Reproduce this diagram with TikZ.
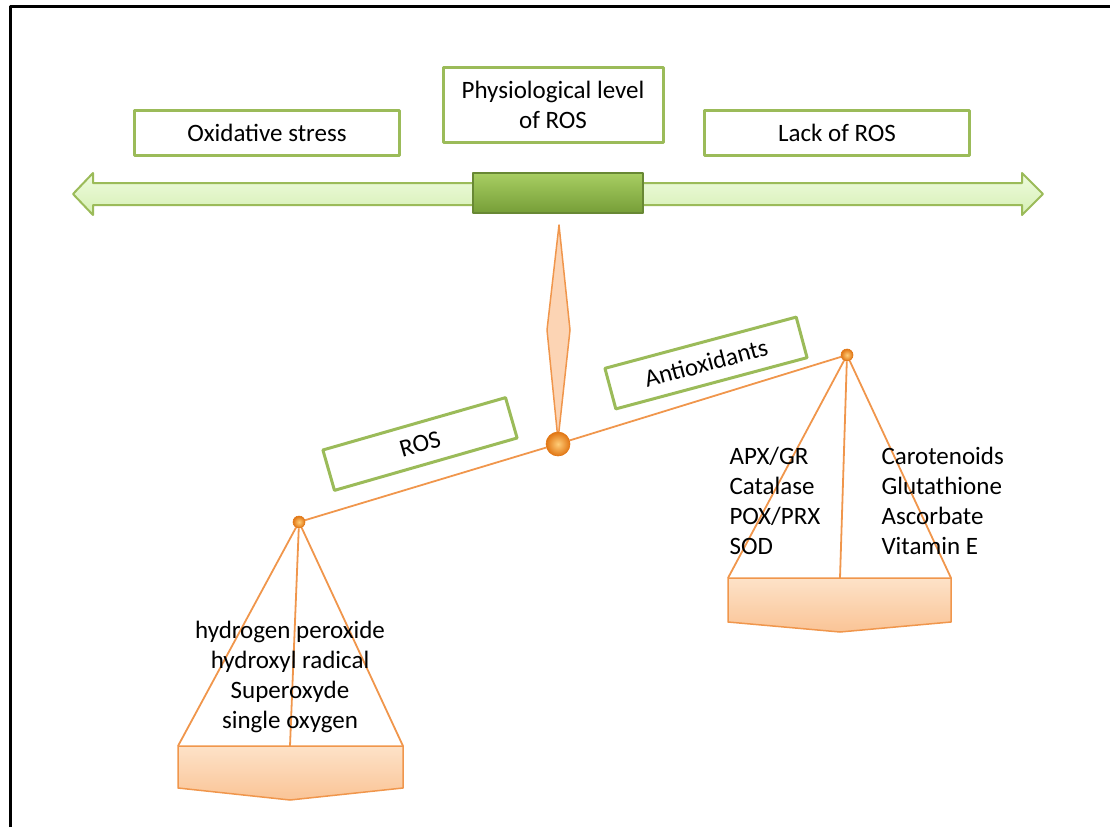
\documentclass[tikz,border=0pt]{standalone}
\usepackage{fontspec}
\setmainfont{Carlito}
\usetikzlibrary{shapes.geometric}

\definecolor{boxgreen}{RGB}{155,187,89}
\definecolor{arrowtop}{RGB}{238,251,222}
\definecolor{arrowbot}{RGB}{214,240,180}
\definecolor{blocktop}{RGB}{168,206,98}
\definecolor{blockbot}{RGB}{118,158,56}
\definecolor{blockline}{RGB}{104,136,52}
\definecolor{ropeorange}{RGB}{240,150,76}
\definecolor{needlefill}{RGB}{252,212,180}
\definecolor{pantop}{RGB}{253,226,200}
\definecolor{panbot}{RGB}{250,196,150}
\definecolor{ballin}{RGB}{255,205,120}
\definecolor{ballout}{RGB}{225,118,20}

\tikzstyle{textbox} = [draw=boxgreen, line width=3pt, fill=white, text=black, inner sep=2pt]
\tikzstyle{rope} = [draw=ropeorange, line width=1.8pt]
\tikzstyle{hook} = [circle, inner sep=0pt, draw=ballout, line width=0.6pt,
                    inner color=ballin, outer color=ballout]

\begin{document}
\begin{tikzpicture}[x=1pt, y=-1pt, line join=round,
                    font=\fontsize{25}{30}\selectfont]
    \useasboundingbox (0,0) rectangle (1110,827);

    % Frame (top and left edge only)
    \draw[line width=3pt] (10,827) -- (10,6.5) -- (1110,6.5);

    % Scale arrow
    \draw[draw=boxgreen, line width=2pt, top color=arrowtop, bottom color=arrowbot]
      (73,194) -- (93,173) -- (93,183) -- (1022,183) -- (1022,173) -- (1043,194)
      -- (1022,215) -- (1022,205) -- (93,205) -- (93,215) -- cycle;
    \node[draw=blockline, line width=1.5pt, top color=blocktop, bottom color=blockbot,
          minimum width=170pt, minimum height=40pt] (level) at (558,193) {};

    % Labels of the scale
    \node[textbox, minimum width=265pt, minimum height=45pt] (oxid) at (267,133) {Oxidative stress};
    \node[textbox, minimum width=220pt, minimum height=75pt, align=center] (phys) at (553,105)
      {Physiological level\\of ROS};
    \node[textbox, minimum width=265pt, minimum height=45pt] (lack) at (837,133) {Lack of ROS};

    % Needle
    \draw[draw=ropeorange, line width=1.5pt, fill=needlefill]
      (559,225) -- (570,330) -- (558,440) -- (547,330) -- cycle;

    % Pans
    \draw[draw=ropeorange, line width=1.5pt, top color=pantop, bottom color=panbot]
      (178,746) coordinate (la) -- (403,746) coordinate (lb) -- (403,788) -- (290,800)
      -- (178,788) -- cycle;
    \coordinate (lm) at (290,746);
    \draw[draw=ropeorange, line width=1.5pt, top color=pantop, bottom color=panbot]
      (728,578) coordinate (ra) -- (951,578) coordinate (rb) -- (951,622) -- (840,632)
      -- (728,622) -- cycle;
    \coordinate (rm) at (840,578);

    % Beam and hooks
    \node[hook, minimum size=24pt] (pivot) at (558,444) {};
    \node[hook, minimum size=12pt] (lhook) at (299,522) {};
    \node[hook, minimum size=12pt] (rhook) at (847,355) {};
    \draw[rope] (lhook) -- (pivot);
    \draw[rope] (pivot) -- (rhook);

    % Ropes
    \foreach \p in {la,lm,lb}
      \draw[rope] (lhook) -- (\p);
    \foreach \p in {ra,rm,rb}
      \draw[rope] (rhook) -- (\p);

    % Tilted labels
    \node[textbox, minimum width=190pt, minimum height=42pt, rotate=16] (ros) at (420,444) {ROS};
    \node[textbox, minimum width=198pt, minimum height=42pt, rotate=15] (anti) at (706,363) {Antioxidants};

    % Contents of the pans
    \node[align=center] (roslist) at (290,677)
      {hydrogen peroxide\\hydroxyl radical\\Superoxyde\\single oxygen};
    \node[align=left, anchor=west] (enzymes) at (726,501)
      {APX/GR\\Catalase\\POX/PRX\\SOD};
    \node[align=left, anchor=west] (smallmol) at (878,501)
      {Carotenoids\\Glutathione\\Ascorbate\\Vitamin E};
  \end{tikzpicture}
\end{document}
